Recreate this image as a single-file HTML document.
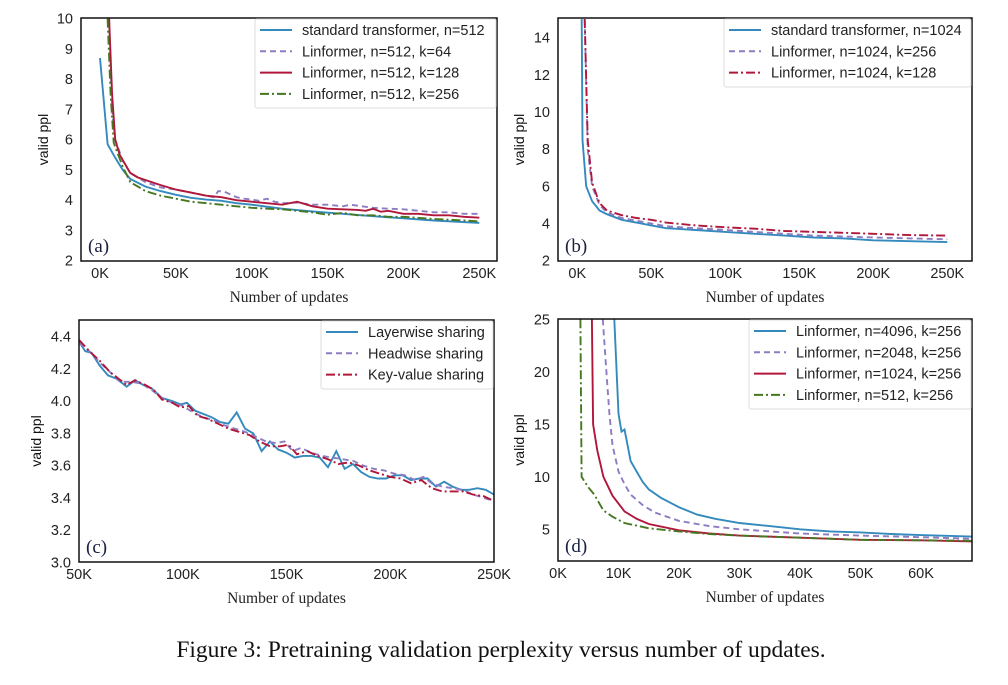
<!DOCTYPE html>
<html><head><meta charset="utf-8"><style>
body{margin:0;background:#fff;width:1008px;height:680px;overflow:hidden}
svg text{font-family:"Liberation Sans",sans-serif}
.ser{font-family:"Liberation Serif",serif}
</style></head><body>
<svg id="fig" width="1008" height="680" xmlns="http://www.w3.org/2000/svg">
<text class="ser" x="501" y="657" font-size="23.5" text-anchor="middle" fill="#111">Figure 3: Pretraining validation perplexity versus number of updates.</text>
</svg>
<script>
// ---- data (x in thousands of updates, y = valid ppl) ----
const aStdX=[0,5,10,15,20,30,40,50,60,70,80,90,100,120,140,160,180,200,220,250];
const aStdY=[8.7,5.85,5.4,5.0,4.7,4.45,4.3,4.18,4.08,4.02,3.98,3.9,3.85,3.72,3.63,3.55,3.47,3.4,3.33,3.25];
const aK64X=[6,8,10,15,20,30,40,50,60,70,75,78,82,90,95,100,105,110,115,120,130,140,150,160,165,180,190,200,210,220,230,240,250];
const aK64Y=[10,7,6,5.3,4.9,4.6,4.42,4.35,4.25,4.15,4.1,4.3,4.28,4.1,4.05,4.02,3.98,4.05,3.95,3.9,3.92,3.85,3.85,3.8,3.85,3.75,3.72,3.7,3.65,3.6,3.6,3.55,3.55];
const aK128X=[6,8,10,13,20,25,40,50,60,70,80,90,100,110,120,130,140,150,160,170,175,180,185,190,200,210,220,230,240,250];
const aK128Y=[10,7.5,6.0,5.5,4.9,4.75,4.5,4.35,4.25,4.15,4.1,4.0,3.95,3.9,3.85,3.95,3.8,3.72,3.7,3.68,3.65,3.72,3.62,3.65,3.55,3.55,3.5,3.5,3.45,3.42];
const aK256X=[5,7,9,12,15,20,30,40,50,60,70,80,90,100,110,120,130,140,150,160,170,180,190,200,220,240,250];
const aK256Y=[10,7.5,5.9,5.5,5.1,4.6,4.3,4.15,4.05,3.95,3.9,3.85,3.8,3.75,3.72,3.7,3.65,3.6,3.52,3.58,3.5,3.5,3.45,3.45,3.38,3.33,3.3];
const bStdX=[3,3.5,6,10,15,20,30,40,50,60,70,80,100,120,140,160,180,200,225,250];
const bStdY=[15,8.5,6,5.2,4.7,4.5,4.2,4.05,3.9,3.75,3.7,3.65,3.55,3.45,3.35,3.25,3.2,3.1,3.05,3.0];
const bK256X=[5,7,10,15,20,30,40,50,60,80,100,120,140,160,180,200,225,250];
const bK256Y=[15,8,6,5,4.6,4.3,4.15,4.0,3.85,3.75,3.65,3.55,3.45,3.35,3.3,3.25,3.2,3.15];
const bK128X=[5,7,10,15,20,30,40,50,60,80,100,120,140,160,180,200,225,250];
const bK128Y=[15,8.5,6.2,5.1,4.7,4.45,4.3,4.2,4.05,3.9,3.8,3.72,3.6,3.55,3.5,3.45,3.38,3.35];
const cLayX=[50,53,56,60,64,68,73,77,81,85,90,95,99,102,106,110,114,118,122,126,130,134,138,142,146,150,154,158,162,166,170,174,178,182,186,190,194,198,202,206,210,214,218,222,226,230,234,238,242,246,250];
const cLayY=[4.37,4.31,4.30,4.22,4.16,4.14,4.09,4.13,4.10,4.08,4.02,4.00,3.98,3.99,3.94,3.92,3.90,3.87,3.86,3.93,3.83,3.80,3.69,3.75,3.70,3.68,3.65,3.66,3.66,3.65,3.59,3.69,3.58,3.61,3.56,3.53,3.52,3.52,3.54,3.54,3.51,3.52,3.52,3.47,3.50,3.47,3.45,3.45,3.46,3.45,3.42];
const cHeadX=[50,55,60,65,70,75,80,85,90,95,100,105,110,115,120,125,130,135,140,145,149,153,157,162,167,172,177,182,187,192,197,202,207,212,216,220,225,230,235,240,245,250];
const cHeadY=[4.36,4.31,4.24,4.18,4.12,4.12,4.11,4.07,4.02,3.99,3.97,3.93,3.90,3.88,3.85,3.83,3.81,3.78,3.75,3.74,3.75,3.69,3.71,3.68,3.66,3.65,3.64,3.63,3.60,3.58,3.57,3.55,3.54,3.51,3.53,3.49,3.47,3.46,3.45,3.42,3.40,3.38];
const cKvX=[50,55,60,65,70,73,77,82,86,90,95,99,103,107,112,117,122,127,132,137,142,147,151,155,160,165,170,175,180,185,190,195,200,205,210,215,220,225,230,235,240,245,250];
const cKvY=[4.38,4.31,4.25,4.18,4.13,4.10,4.13,4.10,4.07,4.01,3.99,3.96,3.97,3.91,3.89,3.86,3.83,3.81,3.79,3.75,3.72,3.72,3.73,3.67,3.69,3.66,3.64,3.61,3.62,3.60,3.57,3.55,3.53,3.52,3.49,3.51,3.46,3.44,3.44,3.44,3.42,3.41,3.38];
const d4096X=[9.3,10,10.5,11,11.5,12,13,14,15,17,20,23,26,30,35,40,45,50,55,60,68.5];
const d4096Y=[25,16,14.3,14.5,13,11.5,10.5,9.5,8.8,8.0,7.1,6.4,6.0,5.6,5.3,5.0,4.8,4.7,4.55,4.45,4.3];
const d2048X=[7.4,8,8.5,9,10,11,12,14,16,20,25,30,35,40,50,60,68.5];
const d2048Y=[25,20,16,13,10.5,9.3,8.3,7.3,6.6,5.8,5.3,5.0,4.8,4.6,4.4,4.25,4.1];
const d1024X=[5.6,5.8,6.5,7.5,9,11,13,15,20,25,30,40,50,60,68.5];
const d1024Y=[25,15,12.5,10,8.2,6.7,6.0,5.5,4.9,4.6,4.4,4.2,4.0,3.95,3.85];
const d512X=[3.7,3.9,5,6,7.5,9,11,15,20,25,30,40,50,60,68.5];
const d512Y=[25,10,9,8.3,6.8,6.2,5.6,5.1,4.8,4.55,4.4,4.2,4.0,3.95,3.9];
const aTicksX=[0,50,100,150,200,250], aTicksY=[2,3,4,5,6,7,8,9,10];
const bTicksX=[0,50,100,150,200,250], bTicksY=[2,4,6,8,10,12,14];
const cTicksX=[50,100,150,200,250], cTicksY=[3.0,3.2,3.4,3.6,3.8,4.0,4.2,4.4];
const dTicksX=[0,10,20,30,40,50,60], dTicksY=[5,10,15,20,25];
const aLegend=["standard transformer, n=512","Linformer, n=512, k=64","Linformer, n=512, k=128","Linformer, n=512, k=256"];
const bLegend=["standard transformer, n=1024","Linformer, n=1024, k=256","Linformer, n=1024, k=128"];
const cLegend=["Layerwise sharing","Headwise sharing","Key-value sharing"];
const dLegend=["Linformer, n=4096, k=256","Linformer, n=2048, k=256","Linformer, n=1024, k=256","Linformer, n=512, k=256"];

const BLUE="#348ABD",PURP="#8E7CC3",RED="#B0173A",GREEN="#467821";
const SOLID="",DASH="6,4",DASHDOT="9,3,2,3";
const NS="http://www.w3.org/2000/svg";
const svg=document.getElementById('fig');
function mk(tag,attrs,parent){const e=document.createElementNS(NS,tag);for(const k in attrs)e.setAttribute(k,attrs[k]);(parent||svg).appendChild(e);return e;}

function panel(id,p){
  const g=mk('g',{});
  
  
  const sx=v=>p.x0+(v-p.xv0)*(p.x1-p.x0)/(p.xv1-p.xv0);
  const sy=v=>p.y0+(v-p.yv0)*(p.y1-p.y0)/(p.yv1-p.yv0);
  const cp=mk('clipPath',{id:'clip'+id},g);
  mk('rect',{x:p.L,y:p.T,width:p.R-p.L,height:p.B-p.T},cp);
  p.series.forEach((s,i)=>{
    const d=s.x.map((v,j)=>(j?'L':'M')+sx(v).toFixed(1)+','+sy(s.y[j]).toFixed(1)).join('');
    const path=mk('path',{d:d,fill:'none',stroke:s.c,'stroke-width':1.9,'stroke-dasharray':s.dash,'clip-path':'url(#clip'+id+')'},g);
    
    
  });
  const fr=mk('rect',{x:p.L,y:p.T,width:p.R-p.L,height:p.B-p.T,fill:'none',stroke:'#111','stroke-width':1.5},g);
  
  
  p.tx.forEach(v=>{
    const t=mk('text',{x:sx(v),y:p.B+17,'font-size':14.5,'text-anchor':'middle',fill:'#222'},g);
    t.textContent=v+'K';
    
    
  });
  p.ty.forEach(v=>{
    const t=mk('text',{x:p.L-8,y:sy(v)+5,'font-size':14.5,'text-anchor':'end',fill:'#222'},g);
    t.textContent=p.tyfmt?v.toFixed(1):v;
    
    
  });
  const xt=mk('text',{x:(p.L+p.R)/2,y:p.B+41,'font-size':15.5,'text-anchor':'middle',fill:'#222',class:'ser'},g);
  xt.textContent='Number of updates';
  
  
  const yt=mk('text',{x:0,y:0,'font-size':14,'text-anchor':'middle',fill:'#111',transform:'translate('+p.ylx+','+((p.T+p.B)/2)+') rotate(-90)'},g);
  yt.textContent='valid ppl';
  
  
  const pl=mk('text',{x:p.L+7,y:p.B-9,'font-size':19,fill:'#1a2040',class:'ser'},g);
  pl.textContent='('+id+')';
  
  
  const lg=mk('g',{},g);
  
  
  mk('rect',{x:p.lx,y:p.T+1,width:p.R-p.lx-1,height:p.lh,fill:'#fff',stroke:'#ddd','stroke-width':1,rx:2},lg);
  p.legend.forEach((txt,i)=>{
    const yy=p.T+12+i*21.3;
    const e=mk('g',{},lg);
    
    
    mk('line',{x1:p.lx+5,x2:p.lx+37,y1:yy,y2:yy,stroke:p.series[i].c,'stroke-width':2,'stroke-dasharray':p.series[i].dash},e);
    const t=mk('text',{x:p.lx+47,y:yy+5,'font-size':14.5,fill:'#222'},e);
    t.textContent=txt;
  });
}
panel('a',{L:81,R:497,T:18,B:261,x0:100,x1:479.3,xv0:0,xv1:250,y0:260.7,y1:18.7,yv0:2,yv1:10,
  tx:aTicksX,ty:aTicksY,ylx:48,lx:255,lh:89,legend:aLegend,
  series:[{x:aStdX,y:aStdY,c:BLUE,dash:SOLID},{x:aK64X,y:aK64Y,c:PURP,dash:DASH},{x:aK128X,y:aK128Y,c:RED,dash:SOLID},{x:aK256X,y:aK256Y,c:GREEN,dash:DASHDOT}]});
panel('b',{L:558,R:972,T:18,B:261,x0:577.3,x1:947.3,xv0:0,xv1:250,y0:260.7,y1:37.7,yv0:2,yv1:14,
  tx:bTicksX,ty:bTicksY,ylx:524,lx:724,lh:68,legend:bLegend,
  series:[{x:bStdX,y:bStdY,c:BLUE,dash:SOLID},{x:bK256X,y:bK256Y,c:PURP,dash:DASH},{x:bK128X,y:bK128Y,c:RED,dash:DASHDOT}]});
panel('c',{L:79,R:494,T:320,B:562,x0:79,x1:494,xv0:50,xv1:250,y0:562.3,y1:336.7,yv0:3.0,yv1:4.4,
  tx:cTicksX,ty:cTicksY,tyfmt:true,ylx:41,lx:321,lh:68,legend:cLegend,
  series:[{x:cLayX,y:cLayY,c:BLUE,dash:SOLID},{x:cHeadX,y:cHeadY,c:PURP,dash:DASH},{x:cKvX,y:cKvY,c:RED,dash:DASHDOT}]});
panel('d',{L:558,R:972,T:319,B:561,x0:558,x1:921,xv0:0,xv1:60,y0:529.3,y1:319.3,yv0:5,yv1:25,
  tx:dTicksX,ty:dTicksY,ylx:524,lx:749,lh:89,legend:dLegend,
  series:[{x:d4096X,y:d4096Y,c:BLUE,dash:SOLID},{x:d2048X,y:d2048Y,c:PURP,dash:DASH},{x:d1024X,y:d1024Y,c:RED,dash:SOLID},{x:d512X,y:d512Y,c:GREEN,dash:DASHDOT}]});
</script>
</body></html>
